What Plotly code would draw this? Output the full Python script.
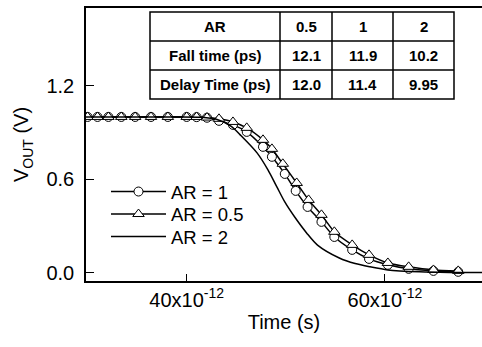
import plotly.graph_objects as go

# ---- data (time in ps, voltage in V) ----
t_ar1 = [30.0, 31.0, 32.1, 33.4, 34.8, 36.4, 38.1, 40.0, 41.0, 42.05, 43.26, 44.67, 46.06,
         47.7, 48.6, 49.9, 51.0, 52.2, 53.6, 54.9, 56.7, 58.4, 60.3, 62.4, 64.9, 67.4]
v_ar1 = [1.0, 1.0, 1.0, 1.0, 1.0, 1.0, 1.0, 1.0, 0.999, 0.995, 0.975, 0.949, 0.904,
         0.808, 0.744, 0.634, 0.525, 0.422, 0.326, 0.229, 0.146, 0.088, 0.050, 0.024, 0.011, 0.005]

t_ar05 = [30.0, 31.0, 32.1, 33.4, 34.8, 36.4, 38.1, 40.0, 41.0, 42.05, 43.26, 44.67, 46.06,
          47.7, 48.6, 49.7, 51.1, 52.3, 53.6, 54.9, 56.7, 58.4, 60.3, 62.4, 64.9, 67.4]
v_ar05 = [1.0, 1.0, 1.0, 1.0, 1.0, 1.0, 1.0, 1.0, 1.0, 0.996, 0.988, 0.968, 0.93,
          0.853, 0.795, 0.699, 0.576, 0.467, 0.371, 0.262, 0.178, 0.114, 0.062, 0.037, 0.017, 0.011]

t_ar2 = [29.84, 34.0, 38.0, 41.5, 43.0, 44.5, 45.4, 47.1, 48.2, 49.1, 49.9, 50.9, 52.1,
         53.2, 55.4, 57.0, 58.5, 60.3, 63.5, 66.5, 69.8]
v_ar2 = [1.0, 1.0, 1.0, 0.998, 0.985, 0.94, 0.885, 0.769, 0.66, 0.551, 0.454, 0.357, 0.255,
         0.177, 0.094, 0.058, 0.037, 0.017, 0.005, 0.001, 0.0]

# ---- inset table ----
table_header = ["AR", "0.5", "1", "2"]
table_rows = ["Fall time (ps)", "Delay Time (ps)"]
fall_time = ["12.1", "11.9", "10.2"]
delay_time = ["12.0", "11.4", "9.95"]

x_tickvals = [40, 60]
x_ticktext = ["40x10<sup>-12</sup>", "60x10<sup>-12</sup>"]
y_tickvals = [0.0, 0.6, 1.2]

FONT = "Liberation Sans, Arial, Helvetica, sans-serif"
W, H = 482, 347
ML, MR, MT, MB = 86, 0, 8, 66

pw, ph = W - ML - MR, H - MT - MB
def px_x(p):
    return (p - ML) / pw
def px_y(p):
    return (H - MB - p) / ph

fig = go.Figure()
fig.add_trace(go.Scatter(
    x=t_ar1, y=v_ar1, mode="lines+markers", name="AR = 1", legend="legend",
    line=dict(color="black", width=1.5, shape="spline", smoothing=0.6),
    marker=dict(symbol="circle", size=9, color="white", line=dict(color="black", width=1)),
))
fig.add_trace(go.Scatter(
    x=t_ar05, y=v_ar05, mode="lines+markers", name="AR = 0.5", legend="legend2",
    line=dict(color="black", width=1.5, shape="spline", smoothing=0.6),
    marker=dict(symbol="triangle-up", size=10, color="white", line=dict(color="black", width=1)),
))
fig.add_trace(go.Scatter(
    x=t_ar2, y=v_ar2, mode="lines", name="AR = 2", legend="legend3",
    line=dict(color="black", width=1.5, shape="spline", smoothing=0.8),
))

# ---- table drawn with shapes + annotations ----
TX0, TY0 = 150, 12
col_w = [130, 52, 61, 61]
row_h = 29
table_cells = [table_header,
               [table_rows[0]] + fall_time,
               [table_rows[1]] + delay_time]
col_edges = [TX0]
for w in col_w:
    col_edges.append(col_edges[-1] + w)
row_edges = [TY0 + i * row_h for i in range(len(table_cells) + 1)]

fig.add_shape(type="rect", xref="paper", yref="paper",
              x0=px_x(col_edges[0]), x1=px_x(col_edges[-1]),
              y0=px_y(row_edges[-1]), y1=px_y(row_edges[0]),
              line=dict(color="black", width=1.5), fillcolor="white", layer="above")
for xe in col_edges[1:-1]:
    fig.add_shape(type="line", xref="paper", yref="paper",
                  x0=px_x(xe), x1=px_x(xe), y0=px_y(row_edges[-1]), y1=px_y(row_edges[0]),
                  line=dict(color="black", width=1.5), layer="above")
for ye in row_edges[1:-1]:
    fig.add_shape(type="line", xref="paper", yref="paper",
                  x0=px_x(col_edges[0]), x1=px_x(col_edges[-1]), y0=px_y(ye), y1=px_y(ye),
                  line=dict(color="black", width=1.5), layer="above")
for r, row in enumerate(table_cells):
    yc = (row_edges[r] + row_edges[r + 1]) / 2
    for c, txt in enumerate(row):
        xc = (col_edges[c] + col_edges[c + 1]) / 2
        fig.add_annotation(xref="paper", yref="paper", x=px_x(xc), y=px_y(yc),
                           text="<b>%s</b>" % txt, showarrow=False,
                           xanchor="center", yanchor="middle",
                           font=dict(family=FONT, size=15, color="black"))

leg_common = dict(
    xanchor="left", yanchor="middle", bgcolor="rgba(0,0,0,0)",
    font=dict(family=FONT, size=18.5, color="black"), itemwidth=55,
)

fig.update_layout(
    width=W, height=H,
    margin=dict(l=ML, r=MR, t=MT, b=MB, pad=0),
    paper_bgcolor="white", plot_bgcolor="white",
    font=dict(family=FONT, size=20, color="black"),
    showlegend=True,
    legend=dict(x=px_x(106), y=px_y(192), **leg_common),
    legend2=dict(x=px_x(106), y=px_y(214.5), **leg_common),
    legend3=dict(x=px_x(106), y=px_y(237), **leg_common),
    xaxis=dict(
        range=[29.84, 69.8], showgrid=False, zeroline=False,
        showline=True, linecolor="black", linewidth=1.5, mirror=True,
        ticks="inside", ticklen=7, tickwidth=1, tickcolor="black",
        tickvals=x_tickvals, ticktext=x_ticktext,
        tickfont=dict(family=FONT, size=20),
        title=dict(text="Time (s)", font=dict(family=FONT, size=20), standoff=5),
    ),
    yaxis=dict(
        range=[-0.054, 1.70], showgrid=False, zeroline=False,
        showline=True, linecolor="black", linewidth=1.5,
        ticks="inside", ticklen=8, tickwidth=1, tickcolor="black",
        tickvals=y_tickvals, tickformat=".1f",
        tickfont=dict(family=FONT, size=20), ticklabelstandoff=6,
        title=dict(text="V<sub>OUT</sub> (V)", font=dict(family=FONT, size=20), standoff=12),
    ),
)

fig.write_html("out.html")
